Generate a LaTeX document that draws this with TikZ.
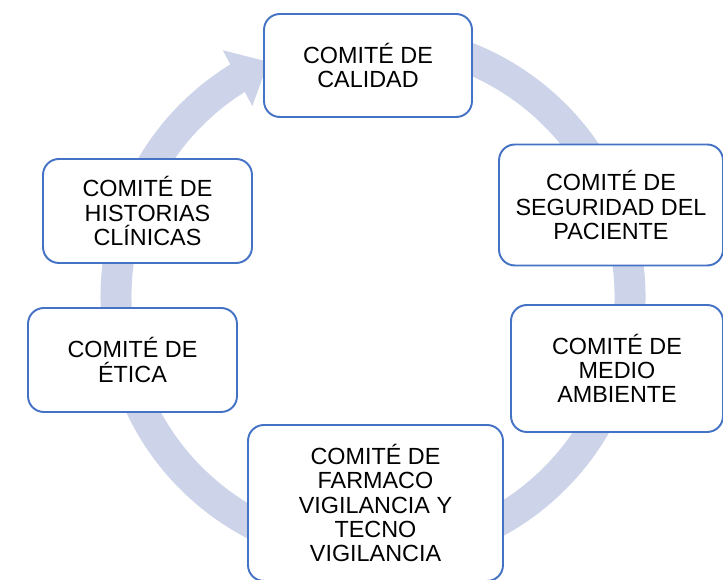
\documentclass[tikz,border=0pt]{standalone}
\usepackage{fontspec}
\setmainfont{Liberation Sans}
\usetikzlibrary{positioning,arrows.meta,bending}
\definecolor{anillo}{HTML}{CDD4EA}
\definecolor{borde}{HTML}{4472C4}
\tikzset{
  comite/.style={draw=borde, line width=1.1pt, rounded corners=9pt, fill=white,
    align=center, inner sep=0pt, font=\fontsize{13.3}{13.8}\selectfont},
  ciclo/.style={draw=anillo, line width=0.62cm,
    -{Triangle[width=1.22cm, length=0.7cm, flex]}}
}

\begin{document}
\begin{tikzpicture}[x=0.02cm, y=0.02cm]
  \useasboundingbox (0,0) rectangle (723,580);
  \coordinate (centro) at (373,283.4);
  % anillo con flecha
  \path[ciclo] (centro) ++(100:257) arc[start angle=100, end angle=-246, radius=257];
  % comites
  \node[comite, minimum width=4.16cm, minimum height=2.06cm] (calidad) at (368,514.5)
    {COMITÉ DE\\CALIDAD};
  \node[comite, minimum width=4.48cm, minimum height=2.42cm] (seguridad) at (611,375)
    {COMITÉ DE\\SEGURIDAD DEL\\PACIENTE};
  \node[comite, minimum width=4.24cm, minimum height=2.54cm] (medio) at (617,211.5)
    {COMITÉ DE\\MEDIO\\AMBIENTE};
  \node[comite, minimum width=5.10cm, minimum height=3.12cm] (farmaco) at (375.5,77)
    {COMITÉ DE\\FARMACO\\VIGILANCIA Y\\TECNO\\VIGILANCIA};
  \node[comite, minimum width=4.18cm, minimum height=2.08cm] (etica) at (132.5,220)
    {COMITÉ DE\\ÉTICA};
  \node[comite, minimum width=4.18cm, minimum height=2.08cm] (historias) at (147.5,369)
    {COMITÉ DE\\HISTORIAS\\CLÍNICAS};
\end{tikzpicture}
\end{document}
